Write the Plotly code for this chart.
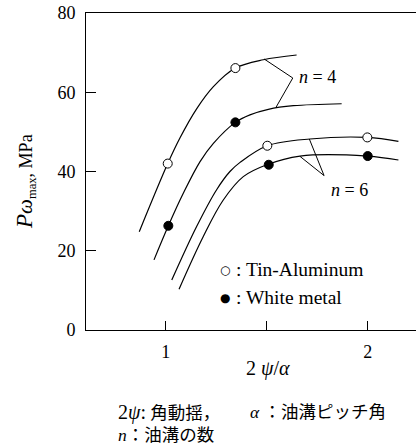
import plotly.graph_objects as go

# Curves
sn4_x = [0.869, 1.01, 1.071, 1.153, 1.236, 1.345, 1.483, 1.648]
sn4_y = [24.8, 42.0, 48.5, 55.8, 61.4, 66.1, 68.2, 69.4]
wm4_x = [0.942, 1.013, 1.087, 1.17, 1.236, 1.345, 1.417, 1.508, 1.632, 1.871]
wm4_y = [17.7, 26.3, 34.5, 42.5, 47.1, 52.4, 54.3, 55.7, 56.6, 57.1]
sn6_x = [1.03, 1.153, 1.252, 1.318, 1.368, 1.503, 1.714, 1.998, 2.152]
sn6_y = [12.6, 26.1, 35.4, 40.0, 42.3, 46.5, 48.2, 48.6, 47.6]
wm6_x = [1.066, 1.186, 1.285, 1.384, 1.5, 1.665, 2.0, 2.152]
wm6_y = [10.3, 23.6, 32.8, 38.7, 41.7, 43.9, 43.9, 42.9]

# Measured points
sn_x = [1.01, 1.345, 1.503, 1.998]
sn_y = [42.0, 66.1, 46.5, 48.6]
wm_x = [1.013, 1.345, 1.51, 2.0]
wm_y = [26.3, 52.4, 41.7, 43.9]

# Leader lines for labels
n4_x = [1.487, 1.629, 1.546]
n4_y = [68.4, 63.6, 56.2]
n6_x = [1.711, 1.784, 1.665]
n6_y = [48.2, 38.96, 43.8]

x_ticks = [1, 2]
x_minor_ticks = [1.5]
y_ticks = [0, 20, 40, 60, 80]

FONT = "Liberation Serif, Noto Sans CJK JP, serif"
fig = go.Figure()
for xs, ys in [(sn4_x, sn4_y), (wm4_x, wm4_y), (sn6_x, sn6_y), (wm6_x, wm6_y)]:
    fig.add_trace(go.Scatter(x=xs, y=ys, mode="lines", line=dict(color="black", width=1.2, shape="spline", smoothing=1.0),
                             showlegend=False, hoverinfo="skip"))
for xs, ys in [(n4_x, n4_y), (n6_x, n6_y)]:
    fig.add_trace(go.Scatter(x=xs, y=ys, mode="lines", line=dict(color="black", width=1),
                             showlegend=False, hoverinfo="skip"))
fig.add_trace(go.Scatter(x=sn_x, y=sn_y, mode="markers",
                         marker=dict(symbol="circle", size=9, color="white", line=dict(color="black", width=1)),
                         showlegend=False))
fig.add_trace(go.Scatter(x=wm_x, y=wm_y, mode="markers",
                         marker=dict(symbol="circle", size=9, color="black", line=dict(color="black", width=1)),
                         showlegend=False))

def t(size):
    return dict(size=size, family=FONT, color="black")

ann = []
ann.append(dict(x=1.649, y=63.8, xref="x", yref="y", text="<i>n</i> = 4", showarrow=False, xanchor="left", font=t(18)))
ann.append(dict(x=1.91, y=35.35, xref="x", yref="y", text="<i>n</i> = 6", showarrow=False, xanchor="center", font=t(18)))
ann.append(dict(x=1.2936, y=15.15, xref="x", yref="y", text="○", showarrow=False, xanchor="center",
                font=dict(size=12, family="DejaVu Sans", color="black")))
ann.append(dict(x=1.2936, y=8.16, xref="x", yref="y", text="●", showarrow=False, xanchor="center",
                font=dict(size=12, family="DejaVu Sans", color="black")))
ann.append(dict(x=1.338, y=15.15, xref="x", yref="y", text=": Tin-Aluminum", showarrow=False, xanchor="left", font=t(19.5)))
ann.append(dict(x=1.338, y=8.16, xref="x", yref="y", text=": White metal", showarrow=False, xanchor="left", font=t(19.5)))
ann.append(dict(x=1.506, y=-0.12, xref="x", yref="paper", text="2 <i>ψ</i>/<i>α</i>", showarrow=False,
                xanchor="center", yanchor="middle", font=t(20)))
ann.append(dict(x=-0.185, y=0.47, xref="paper", yref="paper",
                text="<span style='font-size:23px'><i>P</i></span><span style='font-size:21px'><i>ω</i></span><sub>max</sub>, MPa",
                showarrow=False, textangle=-90, xanchor="center", yanchor="middle", font=t(18)))
ann.append(dict(x=0.0909, y=-0.2587, xref="paper", yref="paper",
                text="<span style='font-size:20px'>2<i>ψ</i>:</span> 角動揺，",
                showarrow=False, xanchor="left", yanchor="middle", font=t(17.5)))
ann.append(dict(x=0.491, y=-0.2587, xref="paper", yref="paper", text="<i>α</i> ：油溝ピッチ角",
                showarrow=False, xanchor="left", yanchor="middle", font=t(17.5)))
ann.append(dict(x=0.0909, y=-0.331, xref="paper", yref="paper", text="<i>n</i>：油溝の数",
                showarrow=False, xanchor="left", yanchor="middle", font=t(17.5)))

fig.update_layout(
    width=416, height=444, autosize=False,
    margin=dict(l=86, r=0, t=13, b=114, pad=0),
    paper_bgcolor="white", plot_bgcolor="white",
    annotations=ann,
    xaxis=dict(range=[0.6054, 2.239], tickvals=x_ticks, ticks="inside", ticklen=9,
               tickcolor="black", tickwidth=1, showline=True, linecolor="black", linewidth=1, mirror=True,
               showgrid=False, zeroline=False, tickfont=t(18), ticklabelstandoff=5,
               minor=dict(tickvals=x_minor_ticks, ticks="inside", ticklen=9, tickcolor="black", tickwidth=1,
                          showgrid=False)),
    yaxis=dict(range=[0, 80], tickvals=y_ticks, ticks="inside", ticklen=10, tickcolor="black", tickwidth=1,
               showline=True, linecolor="black", linewidth=1, showgrid=False, zeroline=False,
               tickfont=t(18), ticklabelstandoff=6),
)
# remove the page's default 8px body margin so the figure sits at the window's top-left corner
fig.write_html("out.html", config={"displayModeBar": False},
               post_script="document.body.style.margin='0';")
